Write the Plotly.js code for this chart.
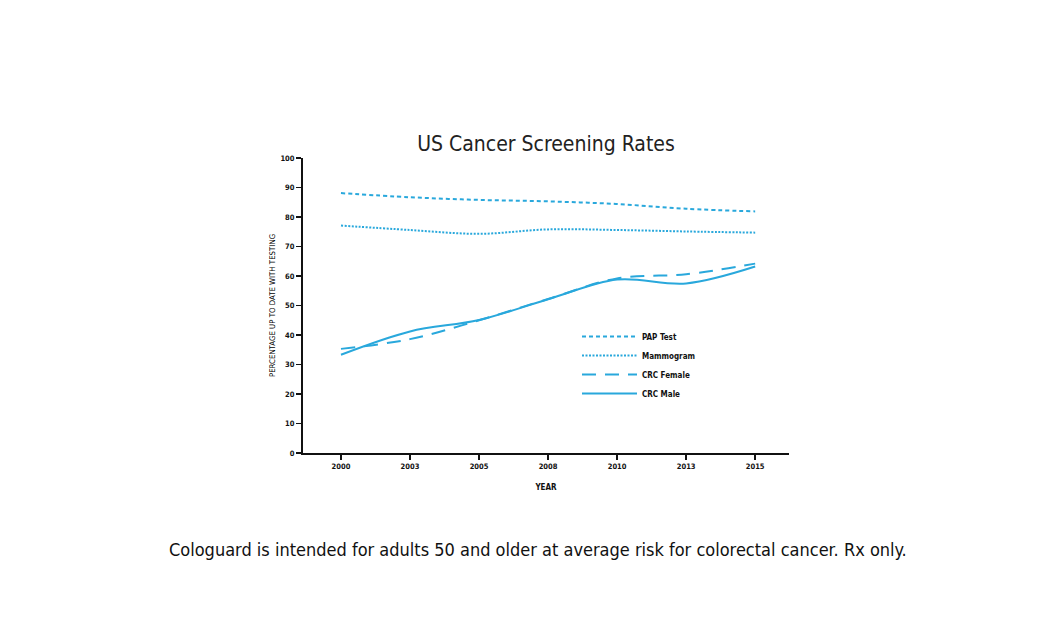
<!DOCTYPE html>
<html>
<head>
<meta charset="utf-8">
<script src="https://cdn.plot.ly/plotly-3.0.1.min.js"></script>
<style>html,body{margin:0;padding:0;background:#fff;}#chart{width:1059px;height:630px;}</style>
</head>
<body>
<div id="chart"></div>
<script>
var years = ["2000", "2003", "2005", "2008", "2010", "2013", "2015"];
var papTest = [88.1, 86.7, 85.8, 85.3, 84.4, 82.8, 81.9];
var mammogram = [77.1, 75.6, 74.3, 75.8, 75.6, 75.1, 74.7];
var crcFemale = [35.3, 38.6, 45.0, 52.2, 59.2, 60.6, 64.2];
var crcMale = [33.3, 41.2, 45.1, 52.1, 58.8, 57.5, 63.2];
var yTicks = [0, 10, 20, 30, 40, 50, 60, 70, 80, 90, 100];

var blue = "#29a8dc";
var fontFam = "'DejaVu Sans Condensed', 'Liberation Sans Narrow', 'Roboto', sans-serif";

function tr(name, y, dash) {
  return {
    x: years, y: y, name: name, type: "scatter", mode: "lines",
    line: {color: blue, width: 2, dash: dash, shape: "spline", smoothing: 1}
  };
}

var data = [
  tr("PAP Test", papTest, "4px,3px"),
  tr("Mammogram", mammogram, "2px,1.5px"),
  tr("CRC Female", crcFemale, "14px,9px"),
  tr("CRC Male", crcMale, "solid")
];

var layout = {
  width: 1059, height: 630,
  margin: {l: 303, r: 270, t: 158, b: 177},
  paper_bgcolor: "#fff", plot_bgcolor: "#fff",
  font: {family: fontFam, color: "#222"},
  title: {
    text: "US Cancer Screening Rates",
    font: {family: fontFam, size: 21, color: "#222"},
    xref: "paper", x: 0.5, xanchor: "center",
    yref: "container", y: 1 - 144/630, yanchor: "middle"
  },
  xaxis: {
    type: "category",
    range: [-0.55, 6.49],
    showgrid: false, zeroline: false,
    showline: true, linecolor: "#111", linewidth: 2,
    ticks: "outside", ticklen: 5, tickwidth: 1.5, tickcolor: "#111",
    tickfont: {family: fontFam, size: 7.5, color: "#111", weight: "bold"},
    title: {text: "YEAR", font: {family: fontFam, size: 8, color: "#111", weight: "bold"}, standoff: 14},
    fixedrange: true
  },
  yaxis: {
    range: [0, 100],
    tickvals: yTicks,
    showgrid: false, zeroline: false,
    showline: true, linecolor: "#111", linewidth: 2,
    ticks: "outside", ticklen: 5, tickwidth: 1.5, tickcolor: "#111",
    tickfont: {family: fontFam, size: 7.5, color: "#111", weight: "bold"},
    title: {text: "PERCENTAGE UP TO DATE WITH TESTING", font: {family: fontFam, size: 7.8, color: "#000"}, standoff: 4},
    fixedrange: true
  },
  showlegend: true,
  legend: {
    x: (577 - 303) / 486, y: (453 - 322) / 295, xanchor: "left", yanchor: "top",
    bgcolor: "rgba(0,0,0,0)", borderwidth: 0,
    font: {family: fontFam, size: 8, color: "#111", weight: "bold"},
    itemwidth: 55, tracegroupgap: 0
  },
  annotations: [{
    text: "Cologuard is intended for adults 50 and older at average risk for colorectal cancer. Rx only.",
    xref: "paper", x: (538 - 303) / 486, xanchor: "center",
    yref: "paper", y: (453 - 549) / 295, yanchor: "middle",
    showarrow: false,
    font: {family: fontFam, size: 18, color: "#111"}
  }]
};

Plotly.newPlot("chart", data, layout, {displayModeBar: false, staticPlot: true});
</script>
</body>
</html>
